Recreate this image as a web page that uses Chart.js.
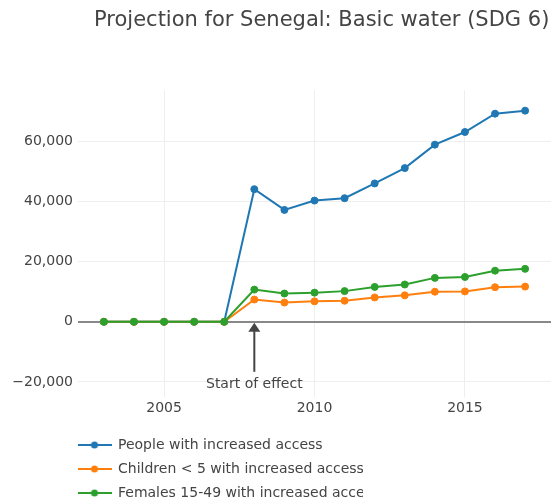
<!DOCTYPE html>
<html>
<head>
<meta charset="utf-8">
<script src="https://cdn.jsdelivr.net/npm/chart.js@4"></script>
<style>
  body { margin: 0; background: #fff; }
  canvas { display: block; }
</style>
</head>
<body>
<canvas id="chart" width="556" height="504"></canvas>
<script>
// data
const years = [2003, 2004, 2005, 2006, 2007, 2008, 2009, 2010, 2011, 2012, 2013, 2014, 2015, 2016, 2017];
const people = [0, 0, 0, 0, 0, 44100, 37200, 40300, 41100, 46000, 51100, 58900, 63100, 69200, 70200];
const children = [0, 0, 0, 0, 0, 7400, 6400, 6800, 7000, 8100, 8800, 10000, 10100, 11500, 11700];
const females = [0, 0, 0, 0, 0, 10700, 9400, 9700, 10200, 11600, 12400, 14600, 14900, 17000, 17600];
const seriesNames = ['People with increased access', 'Children < 5 with increased access', 'Females 15-49 with increased access'];
const xTicks = [2005, 2010, 2015];
const yTicks = [-20000, 0, 20000, 40000, 60000];
const effectYear = 2008;

const FONT = 'DejaVu Sans';
const colors = ['#1f77b4', '#ff7f0e', '#2ca02c'];

function toPoints(vals) {
    return years.map((y, i) => ({ x: y, y: vals[i] }));
}

// little line+dot picture for the legend
function legendIcon(color) {
    const c = document.createElement('canvas');
    c.width = 34; c.height = 10;
    const g = c.getContext('2d');
    g.strokeStyle = color; g.lineWidth = 2;
    g.beginPath(); g.moveTo(0, 5); g.lineTo(34, 5); g.stroke();
    g.fillStyle = color;
    g.beginPath(); g.arc(17, 5, 3.5, 0, Math.PI * 2); g.fill();
    return c;
}

function fmt(v) {
    const s = Math.abs(v).toLocaleString('en-US');
    return v < 0 ? '\u2212' + s : s;
}

// arrow + "Start of effect" text, and the clipped legend edge
const extras = {
    id: 'extras',
    afterLayout(chart) {
        chart.legend.left = 68;
        chart.legend.top = 428;
    },
    afterDraw(chart) {
        const ctx = chart.ctx;
        const x = chart.scales.x.getPixelForValue(effectYear);
        const y0 = chart.scales.y.getPixelForValue(0);
        ctx.save();
        ctx.strokeStyle = '#444';
        ctx.fillStyle = '#444';
        ctx.lineWidth = 2;
        ctx.beginPath();
        ctx.moveTo(x, y0 + 8);
        ctx.lineTo(x, y0 + 50);
        ctx.stroke();
        ctx.beginPath();
        ctx.moveTo(x, y0 + 1);
        ctx.lineTo(x - 6, y0 + 10);
        ctx.lineTo(x + 6, y0 + 10);
        ctx.closePath();
        ctx.fill();
        ctx.font = '14px "' + FONT + '"';
        ctx.textAlign = 'center';
        ctx.textBaseline = 'middle';
        ctx.fillText('Start of effect', x, y0 + 63);
        // legend is cut off on the right in the original
        ctx.fillStyle = '#fff';
        ctx.fillRect(363, 430, 200, 80);
        ctx.restore();
    }
};

new Chart(document.getElementById('chart'), {
    type: 'line',
    data: {
        datasets: [people, children, females].map((vals, i) => ({
            label: seriesNames[i],
            data: toPoints(vals),
            borderColor: colors[i],
            backgroundColor: colors[i],
            pointBackgroundColor: colors[i],
            pointBorderColor: colors[i],
            pointRadius: 3.5,
            pointBorderWidth: 1,
            borderWidth: 2,
            tension: 0,
            order: 2 - i
        }))
    },
    options: {
        responsive: false,
        animation: false,
        layout: { padding: { left: 0, right: 0, top: 0, bottom: 0 } },
        scales: {
            x: {
                type: 'linear',
                min: 2002.14,
                max: 2017.86,
                afterBuildTicks: s => { s.ticks = xTicks.map(v => ({ value: v })); },
                afterFit: s => { s.height = 25; },
                ticks: { color: '#444', font: { family: FONT, size: 14 }, padding: 3, callback: v => String(v) },
                grid: { color: '#eee', drawTicks: false },
                border: { display: false }
            },
            y: {
                min: -25000,
                max: 77000,
                afterBuildTicks: s => { s.ticks = yTicks.map(v => ({ value: v })); },
                afterFit: s => { s.width = 78; },
                ticks: { color: '#444', font: { family: FONT, size: 14 }, padding: 5, callback: v => fmt(v) },
                grid: {
                    drawTicks: false,
                    color: c => c.tick && c.tick.value === 0 ? '#888' : '#eee',
                    lineWidth: c => c.tick && c.tick.value === 0 ? 2 : 1
                },
                border: { display: false }
            }
        },
        plugins: {
            tooltip: { enabled: false },
            title: {
                display: true,
                text: 'Projection for Senegal: Basic water (SDG 6) ',
                align: 'end',
                color: '#444',
                font: { family: FONT, size: 21, weight: 'normal' },
                padding: { top: 8, bottom: 57 }
            },
            legend: {
                position: 'bottom',
                align: 'start',
                labels: {
                    usePointStyle: true,
                    pointStyleWidth: 33,
                    padding: 10,
                    color: '#444',
                    font: { family: FONT, size: 14 },
                    generateLabels: chart => chart.data.datasets.map((ds, i) => ({
                        text: ds.label,
                        pointStyle: legendIcon(ds.borderColor),
                        fillStyle: ds.borderColor,
                        strokeStyle: ds.borderColor,
                        fontColor: '#444',
                        lineWidth: 0,
                        hidden: false,
                        datasetIndex: i
                    }))
                }
            }
        }
    },
    plugins: [extras]
});
</script>
</body>
</html>
